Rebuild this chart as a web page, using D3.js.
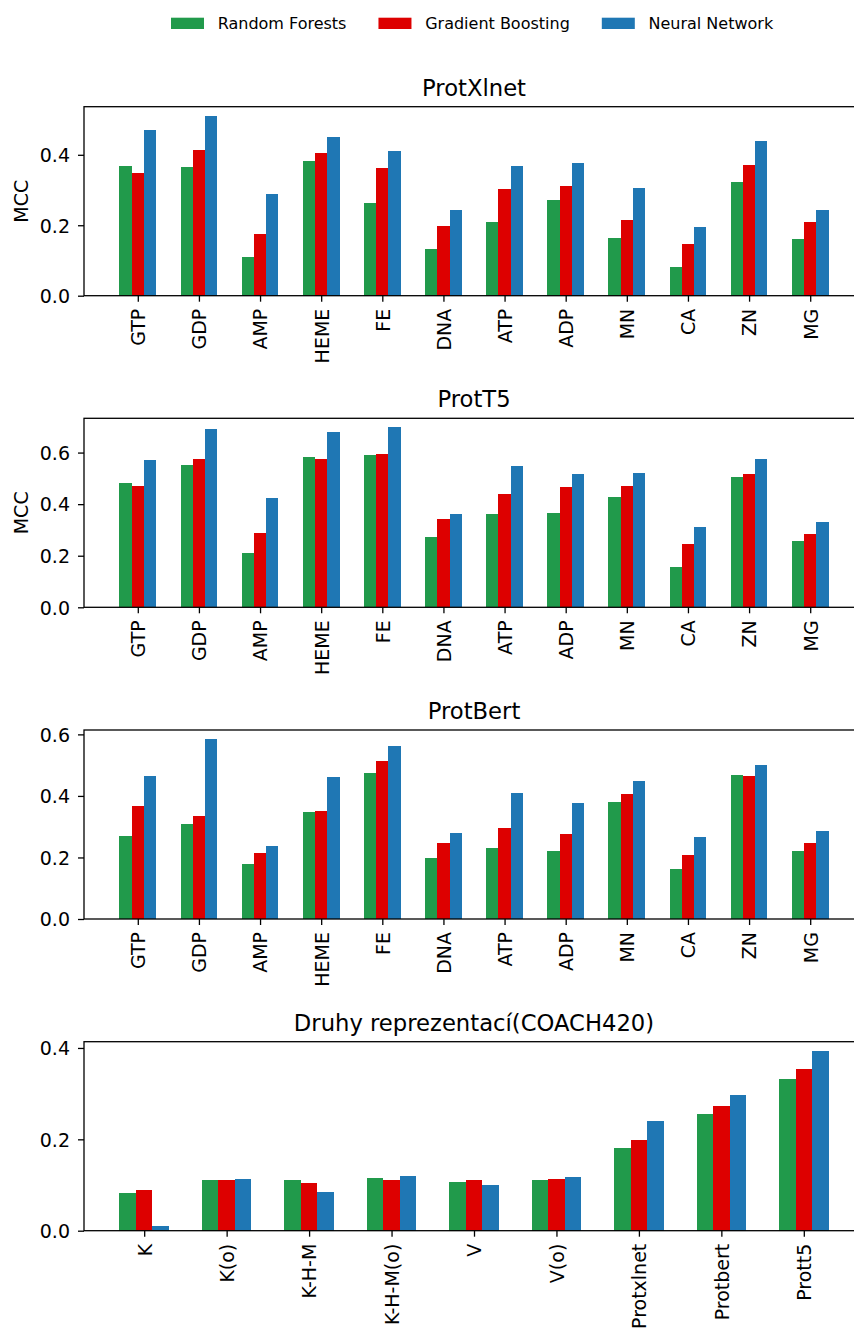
<!DOCTYPE html>
<html>
<head>
<meta charset="utf-8">
<script src="https://cdn.jsdelivr.net/npm/d3@7"></script>
<style>
  body { margin: 0; background: #fff; }
  svg text { font-family: "DejaVu Sans", sans-serif; fill: #000; }
</style>
</head>
<body>
<svg id="chart" width="854" height="1329"></svg>
<script>
// series names and colours
var seriesNames = ["Random Forests", "Gradient Boosting", "Neural Network"];
var seriesColors = ["#219a4b", "#dd0000", "#1f77b4"];

var ligands = ["GTP", "GDP", "AMP", "HEME", "FE", "DNA", "ATP", "ADP", "MN", "CA", "ZN", "MG"];
var reprs = ["K", "K(o)", "K-H-M", "K-H-M(o)", "V", "V(o)", "Protxlnet", "Protbert", "Prott5"];

// ProtXlnet
var xlnetRF = [0.369, 0.366, 0.110, 0.383, 0.264, 0.133, 0.209, 0.272, 0.164, 0.082, 0.323, 0.161];
var xlnetGB = [0.349, 0.414, 0.175, 0.406, 0.363, 0.198, 0.303, 0.312, 0.215, 0.147, 0.371, 0.209];
var xlnetNN = [0.471, 0.511, 0.289, 0.451, 0.411, 0.243, 0.369, 0.377, 0.306, 0.195, 0.439, 0.243];

// ProtT5
var t5RF = [0.483, 0.550, 0.211, 0.581, 0.589, 0.273, 0.363, 0.367, 0.429, 0.157, 0.507, 0.258];
var t5GB = [0.472, 0.577, 0.289, 0.577, 0.596, 0.343, 0.441, 0.468, 0.472, 0.246, 0.518, 0.285];
var t5NN = [0.573, 0.690, 0.425, 0.678, 0.698, 0.363, 0.546, 0.518, 0.522, 0.312, 0.576, 0.332];

// ProtBert
var bertRF = [0.269, 0.308, 0.178, 0.347, 0.474, 0.198, 0.230, 0.220, 0.380, 0.162, 0.467, 0.220];
var bertGB = [0.367, 0.334, 0.214, 0.350, 0.513, 0.246, 0.295, 0.276, 0.406, 0.207, 0.464, 0.246];
var bertNN = [0.464, 0.585, 0.236, 0.461, 0.562, 0.279, 0.409, 0.377, 0.448, 0.266, 0.500, 0.285];

// COACH420 representations
var coachRF = [0.083, 0.112, 0.110, 0.116, 0.107, 0.110, 0.180, 0.255, 0.331];
var coachGB = [0.090, 0.110, 0.105, 0.112, 0.110, 0.114, 0.198, 0.274, 0.355];
var coachNN = [0.011, 0.114, 0.085, 0.120, 0.101, 0.118, 0.241, 0.298, 0.394];

var panels = [
	{title: "ProtXlnet", cats: ligands, series: [xlnetRF, xlnetGB, xlnetNN], ticks: [0, 0.2, 0.4], ylabel: "MCC", top: 106.7},
	{title: "ProtT5", cats: ligands, series: [t5RF, t5GB, t5NN], ticks: [0, 0.2, 0.4, 0.6], ylabel: "MCC", top: 418.3},
	{title: "ProtBert", cats: ligands, series: [bertRF, bertGB, bertNN], ticks: [0, 0.2, 0.4, 0.6], ylabel: null, top: 730},
	{title: "Druhy reprezentací(COACH420)", cats: reprs, series: [coachRF, coachGB, coachNN], ticks: [0, 0.2, 0.4], ylabel: null, top: 1041.7}
];

var svg = d3.select("#chart"),
	left = 84, right = 864, ph = 189,
	barW = 0.2, tickFont = 19;

panels.forEach(function(p) {
	var n = p.cats.length,
		pad = 0.05 * (n - 1 + 0.6),
		x = d3.scaleLinear().domain([-0.3 - pad, n - 1 + 0.3 + pad]).range([left, right]),
		maxV = d3.max(p.series, function(s) { return d3.max(s); }),
		y = d3.scaleLinear().domain([0, maxV * 1.05]).range([p.top + ph, p.top]);

	var g = svg.append("g");

	// bars
	p.series.forEach(function(s, si) {
		g.selectAll("rect.s" + si).data(s).enter().append("rect")
			.attr("class", "s" + si)
			.attr("x", function(d, i) { return x(i + (si - 1) * barW - barW / 2); })
			.attr("width", function(d, i) { return x(i + barW) - x(i); })
			.attr("y", function(d) { return y(d); })
			.attr("height", function(d) { return y(0) - y(d); })
			.attr("fill", seriesColors[si])
			.attr("shape-rendering", "crispEdges");
	});

	// y axis
	var yAxis = d3.axisLeft(y).tickValues(p.ticks).tickFormat(d3.format(".1f")).tickSize(6).tickPadding(8);
	var ya = g.append("g").attr("transform", "translate(" + left + ",0)").call(yAxis);
	ya.select(".domain").remove();
	ya.selectAll("line").attr("stroke", "#000").attr("stroke-width", 1.3);
	ya.selectAll("text").attr("font-size", tickFont).attr("font-family", "DejaVu Sans").attr("dy", "0.36em");

	// x axis
	var xAxis = d3.axisBottom(x).tickValues(d3.range(n)).tickFormat(function(i) { return p.cats[i]; }).tickSize(6);
	var xa = g.append("g").attr("transform", "translate(0," + (p.top + ph) + ")").call(xAxis);
	xa.select(".domain").remove();
	xa.selectAll("line").attr("stroke", "#000").attr("stroke-width", 1.3);
	xa.selectAll("text")
		.attr("font-size", tickFont)
		.attr("font-family", "DejaVu Sans")
		.attr("text-anchor", "end")
		.attr("x", 0).attr("y", 0)
		.attr("dy", "0.36em")
		.attr("transform", "translate(0,13) rotate(-90)");

	// frame
	g.append("rect")
		.attr("x", left).attr("y", p.top)
		.attr("width", right - left).attr("height", ph)
		.attr("fill", "none").attr("stroke", "#000").attr("stroke-width", 1.3);

	// title
	g.append("text")
		.attr("x", (left + right) / 2)
		.attr("y", p.top - 11)
		.attr("text-anchor", "middle")
		.attr("font-size", 22.7)
		.text(p.title);

	if (p.ylabel) {
		g.append("text")
			.attr("transform", "translate(21," + (p.top + ph / 2) + ") rotate(-90)")
			.attr("text-anchor", "middle")
			.attr("dy", "0.36em")
			.attr("font-size", tickFont)
			.text(p.ylabel);
	}
});

// legend
var legend = svg.append("g"),
	lx = 171;
seriesNames.forEach(function(name, i) {
	legend.append("rect")
		.attr("x", lx).attr("y", 17.7)
		.attr("width", 33).attr("height", 11.3)
		.attr("fill", seriesColors[i]);
	var t = legend.append("text")
		.attr("x", lx + 46.7).attr("y", 29)
		.attr("font-size", 16)
		.text(name);
	lx += 46.7 + t.node().getComputedTextLength() + 32;
});
</script>
</body>
</html>
